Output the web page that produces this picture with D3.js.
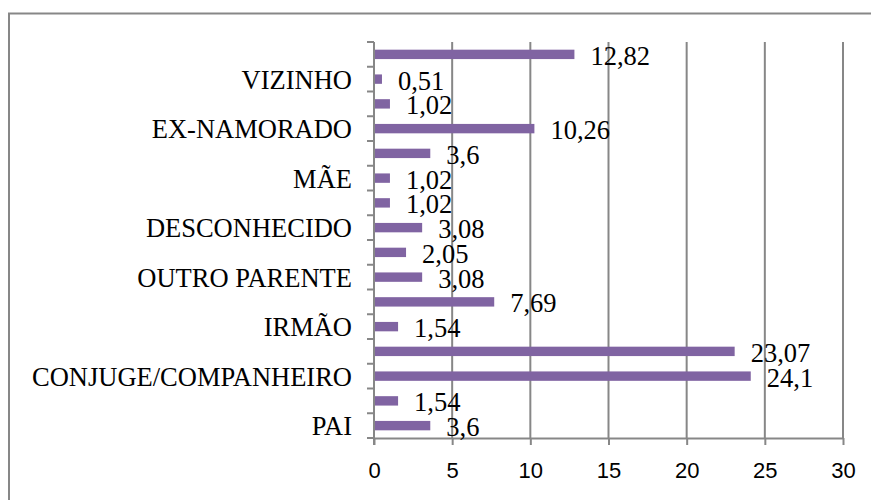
<!DOCTYPE html>
<html><head><meta charset="utf-8">
<script src="https://cdn.jsdelivr.net/npm/d3@7"></script>
<style>
html,body{margin:0;padding:0;background:#fff;}
svg{display:block;}
</style></head>
<body>
<svg id="chart" width="871" height="500"></svg>
<script>
// Data, bottom to top (Excel order)
const categories = ["PAI", "", "CONJUGE/COMPANHEIRO", "", "IRMÃO", "", "OUTRO PARENTE", "", "DESCONHECIDO", "", "MÃE", "", "EX-NAMORADO", "", "VIZINHO", ""];
const values = [3.6, 1.54, 24.1, 23.07, 1.54, 7.69, 3.08, 2.05, 3.08, 1.02, 1.02, 3.6, 10.26, 1.02, 0.51, 12.82];
const xTicks = [0, 5, 10, 15, 20, 25, 30];

const svg = d3.select("#chart");
const gray = "#878787";
const barColor = "#8064A2";
const serif = "'Liberation Serif', 'Times New Roman', Times, serif";

// outer frame (partly outside picture)
svg.append("rect").attr("x", 9).attr("y", 13.5).attr("width", 900).attr("height", 600)
  .attr("fill", "none").attr("stroke", gray).attr("stroke-width", 2);

const pLeft = 374, pRight = 843, pTop = 42, pBottom = 438;
const idx = d3.range(categories.length);
const x = d3.scaleLinear().domain([0, 30]).range([pLeft, pRight]);
const y = d3.scaleBand().domain(idx.slice().reverse()).range([pTop, pBottom]).padding(0);

// gridlines
svg.append("g").selectAll("line").data(xTicks.filter(d => d > 0)).join("line")
  .attr("x1", d => x(d)).attr("x2", d => x(d)).attr("y1", pTop).attr("y2", pBottom)
  .attr("stroke", gray).attr("stroke-width", 2);

// x axis
const xAxis = svg.append("g").attr("transform", `translate(0,${pBottom})`)
  .call(d3.axisBottom(x).tickValues(xTicks).tickSize(7).tickPadding(17).tickSizeOuter(0));
xAxis.select(".domain").attr("stroke", gray).attr("stroke-width", 2);
xAxis.selectAll(".tick line").attr("stroke", gray).attr("stroke-width", 2);
xAxis.selectAll("text").attr("font-family", "'Liberation Sans', Arial, sans-serif")
  .attr("font-size", 22).attr("fill", "#000");

// y axis: ticks at band boundaries
const boundaries = d3.range(categories.length + 1).map(i => pTop + i * y.step());
svg.append("g").selectAll("line").data(boundaries).join("line")
  .attr("x1", pLeft - 7).attr("x2", pLeft).attr("y1", d => d).attr("y2", d => d)
  .attr("stroke", gray).attr("stroke-width", 2);
svg.append("line").attr("x1", pLeft).attr("x2", pLeft).attr("y1", pTop).attr("y2", pBottom + 7)
  .attr("stroke", gray).attr("stroke-width", 2);

// category labels
svg.append("g").selectAll("text").data(idx.filter(i => categories[i] !== "")).join("text")
  .attr("x", 352).attr("y", i => y(i) + y.bandwidth() / 2 + 9.5)
  .attr("text-anchor", "end")
  .attr("font-family", serif)
  .attr("font-size", 26.5).attr("fill", "#000")
  .text(i => categories[i]);

// bars
const barH = 9.4;
svg.append("g").selectAll("rect").data(idx).join("rect")
  .attr("x", x(0) + 1)
  .attr("y", i => y(i) + y.bandwidth() / 2 - barH / 2)
  .attr("width", i => x(values[i]) - x(0) - 1)
  .attr("height", barH)
  .attr("fill", barColor);

// data labels
svg.append("g").selectAll("text").data(idx).join("text")
  .attr("x", i => x(values[i]) + 16)
  .attr("y", i => y(i) + y.bandwidth() / 2 + 10.5)
  .attr("font-family", serif)
  .attr("font-size", 26.5).attr("fill", "#000")
  .text(i => String(values[i]).replace(".", ","));
</script>
</body></html>
